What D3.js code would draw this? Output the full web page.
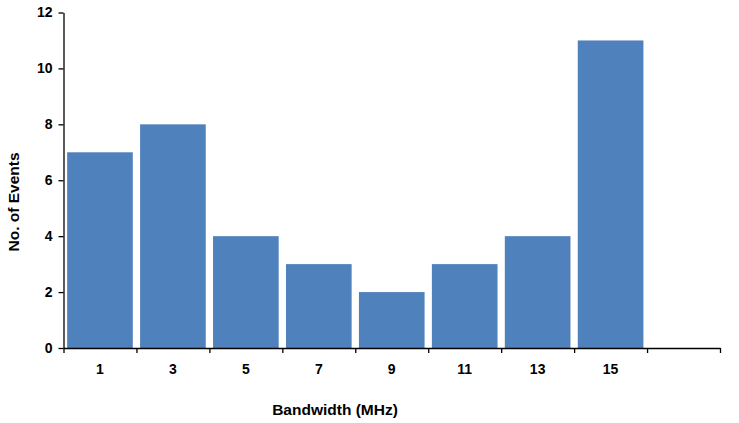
<!DOCTYPE html>
<html>
<head>
<meta charset="utf-8">
<script src="https://cdn.jsdelivr.net/npm/d3@7"></script>
<style>
  body { margin: 0; background: #fff; }
  text { font-family: "Liberation Sans", Arial, sans-serif; font-weight: bold; fill: #000; }
</style>
</head>
<body>
<svg width="739" height="423"></svg>
<script>
var svg = d3.select("svg");

// data
var bandwidths = ["1", "3", "5", "7", "9", "11", "13", "15"];
var events = [7, 8, 4, 3, 2, 3, 4, 11];
var yTicks = [0, 2, 4, 6, 8, 10, 12];

var plotLeft = 63.5, plotRight = 720, plotTop = 12.5, plotBottom = 348;

// one empty slot after the last category
var x = d3.scaleBand()
    .domain(bandwidths.concat(["blank"]))
    .range([plotLeft, plotRight])
    .paddingInner(0.1)
    .paddingOuter(0.05);

var xEdges = d3.scaleLinear().domain([0, 9]).range([plotLeft, plotRight]);

var y = d3.scaleLinear().domain([0, 12]).range([plotBottom, plotTop]);

var bars = bandwidths.map(function (b, i) { return [b, events[i]]; });

svg.selectAll("rect.bar").data(bars).enter()
    .append("rect")
    .attr("class", "bar")
    .attr("x", function (d) { return x(d[0]); })
    .attr("width", x.bandwidth())
    .attr("y", function (d) { return y(d[1]); })
    .attr("height", function (d) { return y(0) - y(d[1]); })
    .attr("fill", "#4F81BD");

// x axis: ticks at slot boundaries
var xAxis = svg.append("g")
    .attr("transform", "translate(0," + plotBottom + ")")
    .call(d3.axisBottom(xEdges).ticks(9).tickSize(5).tickSizeOuter(0).tickFormat(""));
xAxis.selectAll("line").attr("stroke", "#000").attr("stroke-width", 1.3);
xAxis.select(".domain").attr("stroke", "#000").attr("stroke-width", 1.3);

svg.selectAll("text.xlab").data(bandwidths).enter()
    .append("text")
    .attr("class", "xlab")
    .text(function (d) { return d; })
    .attr("x", function (d) { return x(d) + x.bandwidth() / 2; })
    .attr("y", 374)
    .attr("text-anchor", "middle")
    .style("font-size", "14px");

// y axis
var yAxis = svg.append("g")
    .attr("transform", "translate(" + plotLeft + ",0)")
    .call(d3.axisLeft(y).tickValues(yTicks).tickSize(5).tickSizeOuter(0).tickPadding(6));
yAxis.selectAll("line").attr("stroke", "#000").attr("stroke-width", 1.3);
yAxis.select(".domain").attr("stroke", "#000").attr("stroke-width", 1.3);
yAxis.selectAll("text")
    .style("font-size", "14px")
    .style("font-family", "'Liberation Sans', Arial, sans-serif")
    .style("font-weight", "bold")
    .attr("fill", "#000");

svg.append("text")
    .text("Bandwidth (MHz)")
    .attr("x", 335)
    .attr("y", 415)
    .attr("text-anchor", "middle")
    .style("font-size", "15.5px");

svg.append("text")
    .text("No. of Events")
    .attr("transform", "translate(19,202) rotate(-90)")
    .attr("text-anchor", "middle")
    .style("font-size", "15.5px");
</script>
</body>
</html>
